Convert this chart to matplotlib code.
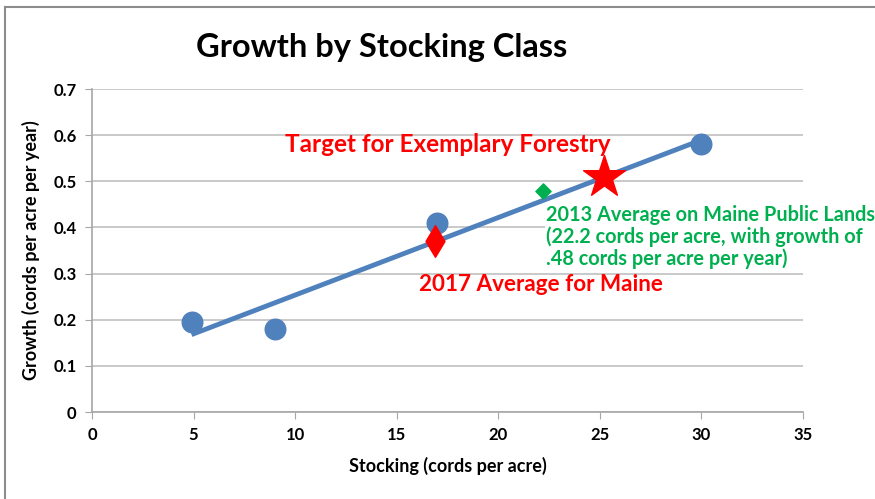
import numpy as np
import matplotlib
matplotlib.use("Agg")
import matplotlib.pyplot as plt
from matplotlib.lines import Line2D

plt.rcParams['font.family'] = ['Lato', 'DejaVu Sans']

# stocking class data
stocking = [4.9, 9, 17, 30]
growth = [0.195, 0.18, 0.41, 0.58]

# highlighted points
maine_2017 = (16.9, 0.37)
public_2013 = (22.2, 0.48)
target = (25.2, 0.51)

xticks = [0, 5, 10, 15, 20, 25, 30, 35]
yticks = [0, 0.1, 0.2, 0.3, 0.4, 0.5, 0.6, 0.7]
ylabels = ['0', '0.1', '0.2', '0.3', '0.4', '0.5', '0.6', '0.7']

blue = '#4f81bd'
red = '#ff0000'
green = '#00b050'

fig = plt.figure(figsize=(8.75, 4.99), dpi=100)
ax = fig.add_axes([0.1051, 0.1743, 0.8126, 0.6473])

# outer frame (top and left edges only visible)
fx, fy = 5/875, 1 - 7/499
fig.add_artist(Line2D([fx, 1.0], [fy, fy], transform=fig.transFigure, color='#8c8c8c', lw=1.5))
fig.add_artist(Line2D([fx, fx], [0, fy], transform=fig.transFigure, color='#8c8c8c', lw=1.5))

# linear trend line
k, b = np.polyfit(stocking, growth, 1)
xs = np.array([min(stocking), max(stocking)])
ax.plot(xs, k * xs + b, color=blue, linewidth=3.5, solid_capstyle='butt', zorder=3)

ax.scatter(stocking, growth, s=220, color=blue, zorder=4)
ax.scatter([maine_2017[0]], [maine_2017[1]], marker='d', s=260, color=red, zorder=5)
ax.scatter([public_2013[0]], [public_2013[1]], marker='D', s=60, color=green, zorder=5)
ax.scatter([target[0]], [target[1]], marker='*', s=1000, color=red, zorder=5)

ax.text(17.5, 0.579, 'Target for Exemplary Forestry', color=red, fontsize=17.5,
        fontweight='bold', ha='center', va='center', zorder=6)
ax.text(22.1, 0.277, '2017 Average for Maine', color=red, fontsize=16.2,
        fontweight='bold', ha='center', va='center', zorder=6)
ax.text(22.35, 0.379, '2013 Average on Maine Public Lands\n(22.2 cords per acre, with growth of\n.48 cords per acre per year)',
        color=green, fontsize=14.3, fontweight='bold', ha='left', va='center',
        linespacing=1.1, zorder=6,
        bbox=dict(facecolor='white', edgecolor='none', pad=1))

ax.set_xlim(0, 35)
ax.set_ylim(0, 0.7)
ax.set_xticks(xticks)
ax.set_yticks(yticks)
ax.set_yticklabels(ylabels)
ax.grid(axis='y', color='#c0c0c0', linewidth=1.2)
ax.set_axisbelow(True)
for s in ['top', 'right']:
    ax.spines[s].set_visible(False)
for s in ['left', 'bottom']:
    ax.spines[s].set_color('#a6a6a6')
    ax.spines[s].set_linewidth(1.2)
ax.tick_params(axis='both', direction='out', length=5, color='#a6a6a6',
               labelsize=12, pad=6)
for lab in ax.get_xticklabels() + ax.get_yticklabels():
    lab.set_fontweight('bold')

ax.set_xlabel('Stocking (cords per acre)', fontsize=13, fontweight='bold', labelpad=10)
ax.set_ylabel('Growth (cords per acre per year)', fontsize=13, fontweight='bold', labelpad=10)
fig.text(0.436, 0.904, 'Growth by Stocking Class', fontsize=23.5, fontweight='bold',
         ha='center', va='center')

fig.savefig('out.png', dpi=100)
